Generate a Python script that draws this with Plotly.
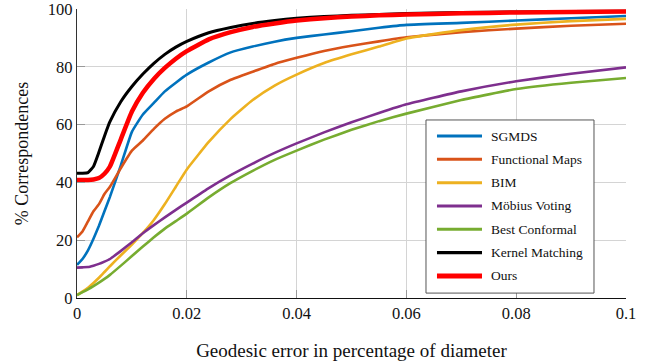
import plotly.graph_objects as go

x_vals = [0, 0.001, 0.002, 0.003, 0.004, 0.005, 0.006, 0.008, 0.010, 0.012, 0.014, 0.016, 0.018,
          0.020, 0.024, 0.028, 0.032, 0.036, 0.040, 0.045, 0.050, 0.055, 0.060, 0.070, 0.080,
          0.090, 0.100]

sgmds = [11.5, 13.5, 16.5, 20.5, 25, 30, 35, 46, 57.5, 63.5, 67.5, 71.5, 74.5,
         77.3, 81.5, 85, 87, 88.7, 90, 91.2, 92.3, 93.5, 94.5, 95.2, 96, 96.8, 97.6]
functional_maps = [21, 23, 26.5, 30, 32.5, 36, 38.5, 45, 51, 54.5, 58.5, 62, 64.5,
                   66.3, 71.5, 75.5, 78.3, 81, 83.1, 85.5, 87.3, 88.8, 90.2, 92.0, 93.2, 94.2, 94.9]
bim = [1, 2.2, 3.5, 5.2, 7, 9, 11, 14.8, 18.5, 22.5, 27, 32.5, 38.5,
       44.5, 54, 62, 68.5, 73.5, 77.3, 81.3, 84.3, 87, 89.8, 92.7, 94.6, 95.8, 96.6]
mobius = [10.5, 10.6, 10.7, 11.2, 11.8, 12.6, 13.5, 16.3, 19.3, 22.4, 25.2, 27.9, 30.5,
          33, 38, 42.5, 46.5, 50.2, 53.5, 57.3, 60.8, 64, 67, 71.5, 75, 77.6, 79.8]
best_conformal = [1, 2, 3, 4.1, 5.3, 6.6, 8, 11.2, 14.5, 17.8, 21, 24, 26.6,
                  29.2, 34.8, 39.8, 44, 47.8, 51, 54.8, 58.2, 61.2, 63.8, 68.5, 72.3, 74.5, 76.1]
kernel_matching = [43.2, 43.2, 43.4, 45.5, 50.5, 56, 61, 68, 73.2, 77.5, 81.2, 84.3, 86.8,
                   88.8, 91.8, 93.6, 95, 96, 96.8, 97.4, 97.8, 98.1, 98.4, 98.8, 99, 99.1, 99.2]
ours = [40.8, 40.8, 40.8, 41, 41.5, 43, 45.5, 55, 64.5, 71, 75.8, 79.6, 82.8,
        85.4, 89.5, 92, 93.8, 95, 96, 96.8, 97.4, 97.8, 98.1, 98.5, 98.8, 99, 99.1]

series_names = ["SGMDS", "Functional Maps", "BIM", "Möbius Voting", "Best Conformal",
                "Kernel Matching", "Ours"]
series_values = [sgmds, functional_maps, bim, mobius, best_conformal, kernel_matching, ours]
colors = ["#0072BD", "#D95319", "#EDB120", "#7E2F8E", "#77AC30", "#000000", "#FF0000"]
widths = [2.6, 2.6, 2.6, 2.6, 2.6, 3, 4.5]

x_ticks = [0, 0.02, 0.04, 0.06, 0.08, 0.1]
x_tick_labels = ["0", "0.02", "0.04", "0.06", "0.08", "0.1"]
y_ticks = [0, 20, 40, 60, 80, 100]
y_tick_labels = ["0", "20", "40", "60", "80", "100"]

FONT = "Liberation Serif, Times New Roman, serif"

fig = go.Figure()
for i, (name, vals) in enumerate(zip(series_names, series_values)):
    fig.add_trace(go.Scatter(
        x=x_vals, y=vals, mode="lines", name=name, showlegend=False,
        line=dict(color=colors[i], width=widths[i], shape="spline", smoothing=0.4),
    ))

# Legend box (paper coordinates), drawn to mimic the pgfplots legend
LEG_X0, LEG_X1 = 0.6357, 0.9417
LEG_Y0, LEG_Y1 = 0.017, 0.616
SAMPLE_X0, SAMPLE_X1 = 0.6557, 0.7377
TEXT_X = 0.7505
ROW_TOP, ROW_STEP = 0.5605, 0.0807

shapes = [dict(type="rect", xref="paper", yref="paper", x0=LEG_X0, x1=LEG_X1,
               y0=LEG_Y0, y1=LEG_Y1, fillcolor="white",
               line=dict(color="#555", width=1), layer="above")]
annotations = []
for i, name in enumerate(series_names):
    yy = ROW_TOP - i * ROW_STEP
    shapes.append(dict(type="line", xref="paper", yref="paper", x0=SAMPLE_X0, x1=SAMPLE_X1,
                       y0=yy, y1=yy, line=dict(color=colors[i], width=widths[i] + 0.4),
                       layer="above"))
    annotations.append(dict(xref="paper", yref="paper", x=TEXT_X, y=yy, text=name,
                            showarrow=False, xanchor="left", yanchor="middle",
                            font=dict(family=FONT, size=13.5, color="#111")))

fig.update_layout(
    width=652, height=364,
    margin=dict(l=77, r=26, t=9, b=66),
    paper_bgcolor="white", plot_bgcolor="white",
    font=dict(family=FONT, color="#111", size=15),
    showlegend=False,
    shapes=shapes, annotations=annotations,
    xaxis=dict(
        range=[0, 0.1], tickvals=x_ticks, ticktext=x_tick_labels, automargin=False,
        showgrid=True, gridcolor="#d4d4d4", gridwidth=1,
        zeroline=False, showline=True, linecolor="#111", linewidth=1.2,
        ticks="inside", ticklen=8, tickcolor="#999", tickwidth=1,
        tickfont=dict(family=FONT, size=16.5), ticklabeloverflow="allow",
        title=dict(text="Geodesic error in percentage of diameter",
                   font=dict(family=FONT, size=19), standoff=21),
    ),
    yaxis=dict(
        range=[0, 100], tickvals=y_ticks, ticktext=y_tick_labels, automargin=False,
        showgrid=True, gridcolor="#d4d4d4", gridwidth=1,
        zeroline=False, showline=True, linecolor="#333", linewidth=1.2,
        ticks="inside", ticklen=8, tickcolor="#999", tickwidth=1,
        tickfont=dict(family=FONT, size=16.5), ticklabeloverflow="allow",
        title=dict(text="% Correspondences", font=dict(family=FONT, size=18), standoff=14),
    ),
)

fig.write_html("out.html", config={"displayModeBar": False},
               post_script="document.body.style.margin='0';document.body.style.overflow='hidden';")
